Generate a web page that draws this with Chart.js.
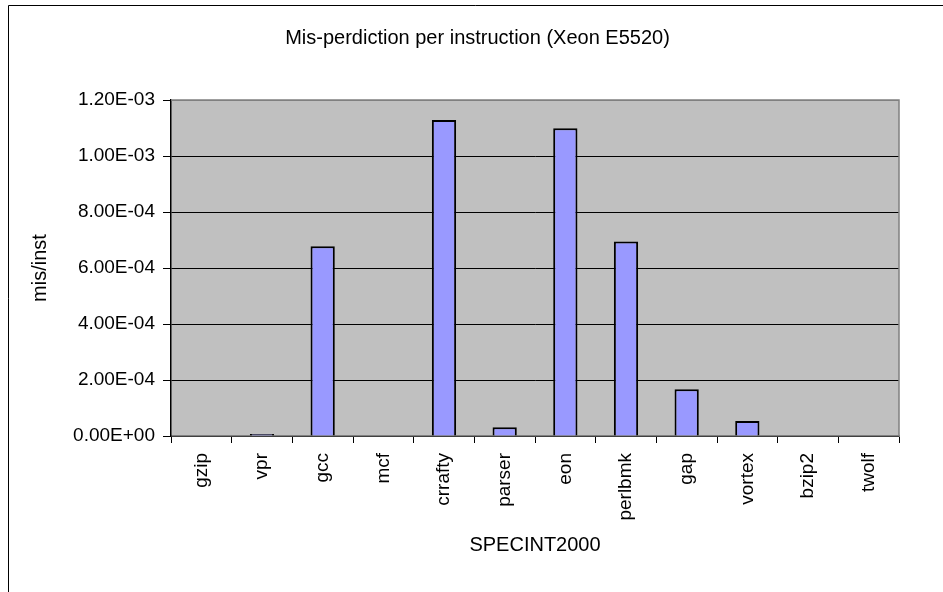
<!DOCTYPE html>
<html>
<head>
<meta charset="utf-8">
<script src="https://cdn.jsdelivr.net/npm/chart.js@4"></script>
<style>
  html, body { margin: 0; padding: 0; background: #fff; }
  #wrap { position: relative; width: 943px; height: 592px; }
</style>
</head>
<body>
<div id="wrap"><canvas id="chart" width="943" height="592"></canvas></div>
<script>
// Data
const benchmarks = ['gzip', 'vpr', 'gcc', 'mcf', 'crrafty', 'parser', 'eon', 'perlbmk', 'gap', 'vortex', 'bzip2', 'twolf'];
const misPerInst = [0, 0.000007, 0.000678, 0, 0.001129, 0.000031, 0.001099, 0.000695, 0.000167, 0.000054, 0, 0];
const yMin = 0;
const yMax = 0.0012;
const yStep = 0.0002;

const FONT = '"Liberation Sans", Arial, sans-serif';

// Excel style scientific label, e.g. 1.20E-03
function sciLabel(v) {
    const parts = Number(v).toExponential(2).split('e');
    const sign = parts[1][0] === '-' ? '-' : '+';
    const exp = parts[1].replace(/[+-]/, '').padStart(2, '0');
    return parts[0] + 'E' + sign + exp;
}

// Grey plot area, white page and the outer frame
const plotBackground = {
    id: 'plotBackground',
    beforeDraw(chart) {
        const { ctx, chartArea: a, width, height } = chart;
        ctx.save();
        ctx.fillStyle = '#fff';
        ctx.fillRect(0, 0, width, height);
        ctx.fillStyle = '#c0c0c0';
        ctx.fillRect(a.left, a.top, a.right - a.left, a.bottom - a.top);
        ctx.strokeStyle = '#000';
        ctx.lineWidth = 1;
        ctx.beginPath();
        ctx.moveTo(8.5, height);
        ctx.lineTo(8.5, 5.5);
        ctx.lineTo(width, 5.5);
        ctx.stroke();
        ctx.restore();
    },
    afterDatasetsDraw(chart) {
        const { ctx, chartArea: a } = chart;
        ctx.save();
        ctx.strokeStyle = '#808080';
        ctx.lineWidth = 1.5;
        ctx.beginPath();
        ctx.moveTo(a.left, a.top);
        ctx.lineTo(a.right, a.top);
        ctx.lineTo(a.right, a.bottom);
        ctx.stroke();
        ctx.restore();
    }
};

const chart = new Chart(document.getElementById('chart'), {
    type: 'bar',
    data: {
        labels: benchmarks,
        datasets: [{
            label: 'mis/inst',
            data: misPerInst,
            backgroundColor: '#9999ff',
            borderColor: '#000',
            borderWidth: 2,
            borderSkipped: 'start',
            barPercentage: 0.4,
            categoryPercentage: 1.0
        }]
    },
    options: {
        responsive: false,
        animation: false,
        // left padding chosen so the chart title centres where the reference has it
        layout: {
            padding: { left: 56, right: 44, top: 0, bottom: 0 }
        },
        plugins: {
            legend: { display: false },
            tooltip: { enabled: false },
            title: {
                display: true,
                text: 'Mis-perdiction per instruction (Xeon E5520)',
                color: '#000',
                font: { family: FONT, size: 20, weight: 'normal', lineHeight: 1.2 },
                padding: { top: 26, bottom: 50 }
            }
        },
        scales: {
            x: {
                afterFit(scale) { scale.height = 156; },
                grid: {
                    offset: true,
                    drawOnChartArea: false,
                    drawTicks: true,
                    tickLength: 7,
                    tickColor: '#000'
                },
                border: { display: true, color: '#808080', width: 1.5 },
                ticks: {
                    color: '#000',
                    font: { family: FONT, size: 19 },
                    minRotation: 90,
                    maxRotation: 90,
                    padding: 10,
                    autoSkip: false
                },
                title: {
                    display: true,
                    text: 'SPECINT2000',
                    color: '#000',
                    font: { family: FONT, size: 20, lineHeight: 1.2 },
                    padding: { top: 0, bottom: 35 }
                }
            },
            y: {
                min: yMin,
                max: yMax,
                afterFit(scale) { scale.width = 115; },
                grid: {
                    color: (c) => (c.tick && c.tick.value >= yMax - 1e-9) ? '#808080' : '#000',
                    lineWidth: 1,
                    tickLength: 8,
                    tickColor: '#000'
                },
                border: { display: true, color: '#000', width: 1.5 },
                ticks: {
                    stepSize: yStep,
                    color: '#000',
                    font: { family: FONT, size: 19 },
                    padding: 8,
                    callback: (v) => sciLabel(v)
                },
                title: {
                    display: true,
                    text: 'mis/inst',
                    color: '#000',
                    font: { family: FONT, size: 20, lineHeight: 1.2 },
                    padding: { top: -28, bottom: 0 }
                }
            }
        }
    },
    plugins: [plotBackground]
});
</script>
</body>
</html>
